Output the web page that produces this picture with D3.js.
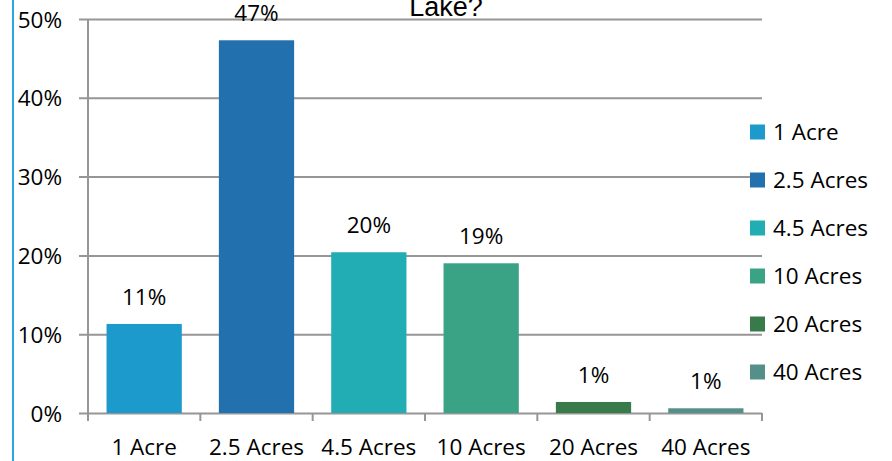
<!DOCTYPE html>
<html><head><meta charset="utf-8">
<script src="https://cdn.jsdelivr.net/npm/d3@7"></script>
<style>
html,body{margin:0;padding:0;background:#fff;}
svg{display:block;}
text{font-family:"Open Sans",sans-serif;fill:#000;}
</style></head>
<body>
<script>
const categories = ["1 Acre", "2.5 Acres", "4.5 Acres", "10 Acres", "20 Acres", "40 Acres"];
const values = [11.3, 47.3, 20.4, 19.0, 1.4, 0.6];
const colors = ["#1B9ACB", "#2271AE", "#22ADB5", "#3AA386", "#397A4B", "#548F8A"];
const yTicks = [0, 10, 20, 30, 40, 50];
const titleText = "Lake?";

const W = 892, H = 461;
const FS = 22.5;
const svg = d3.select("body").append("svg").attr("width", W).attr("height", H);

const x0 = 88, x1 = 762, yTop = 19, yBot = 413;
const x = d3.scaleBand().domain(categories).range([x0, x1]).paddingInner(0.33).paddingOuter(0.165);
const y = d3.scaleLinear().domain([0, 50]).range([yBot, yTop]);

// left accent line
svg.append("line").attr("x1", 13).attr("x2", 13).attr("y1", 0).attr("y2", H)
  .attr("stroke", "#29A8E0").attr("stroke-width", 2);

// gridlines + y axis
const yAxis = d3.axisLeft(y).tickValues(yTicks).tickFormat(d => d + "%").tickSize(x1 - x0 + 9).tickPadding(17);
const gy = svg.append("g").attr("transform", `translate(${x1},0)`).call(yAxis);
gy.select(".domain").remove();
gy.selectAll(".tick line").attr("stroke", "#969696").attr("stroke-width", 2);
gy.selectAll(".tick text").attr("font-size", FS).attr("font-family", "Open Sans").attr("fill", "#000").attr("dy", "0.36em");

// y axis line
svg.append("line").attr("x1", x0).attr("x2", x0).attr("y1", yTop).attr("y2", yBot + 8)
  .attr("stroke", "#969696").attr("stroke-width", 2);

// x axis ticks at category boundaries
const bounds = categories.map(c => x(c) - x.step() * x.paddingInner() / 2);
bounds.push(x1);
bounds[0] = x0;
svg.selectAll(".xt").data(bounds).enter().append("line")
  .attr("x1", d => d).attr("x2", d => d).attr("y1", yBot).attr("y2", yBot + 8)
  .attr("stroke", "#969696").attr("stroke-width", 2);

// bars
svg.selectAll(".bar").data(values).enter().append("rect")
  .attr("x", (d, i) => x(categories[i])).attr("width", x.bandwidth())
  .attr("y", d => y(d)).attr("height", d => yBot - y(d))
  .attr("fill", (d, i) => colors[i]);

// value labels
svg.selectAll(".lbl").data(values).enter().append("text")
  .attr("x", (d, i) => x(categories[i]) + x.bandwidth() / 2)
  .attr("y", d => y(d) - 19)
  .attr("text-anchor", "middle").attr("font-size", FS)
  .text(d => Math.round(d) + "%");

// x labels
svg.selectAll(".xl").data(categories).enter().append("text")
  .attr("x", d => x(d) + x.bandwidth() / 2).attr("y", 455)
  .attr("text-anchor", "middle").attr("font-size", FS)
  .text(d => d);

// title (partially cut, as in the reference)
svg.append("text").attr("x", 446).attr("y", 16).attr("text-anchor", "middle")
  .attr("font-size", 27)
  .style("font-family", "'Liberation Sans', Arial, sans-serif")
  .text(titleText);

// legend
const lg = svg.append("g");
categories.forEach((c, i) => {
  const cy = 132 + i * 48;
  lg.append("rect").attr("x", 750).attr("y", cy - 7.5).attr("width", 15).attr("height", 15).attr("fill", colors[i]);
  lg.append("text").attr("x", 773).attr("y", cy).attr("dy", "0.36em").attr("font-size", FS).text(c);
});
</script>
</body></html>
